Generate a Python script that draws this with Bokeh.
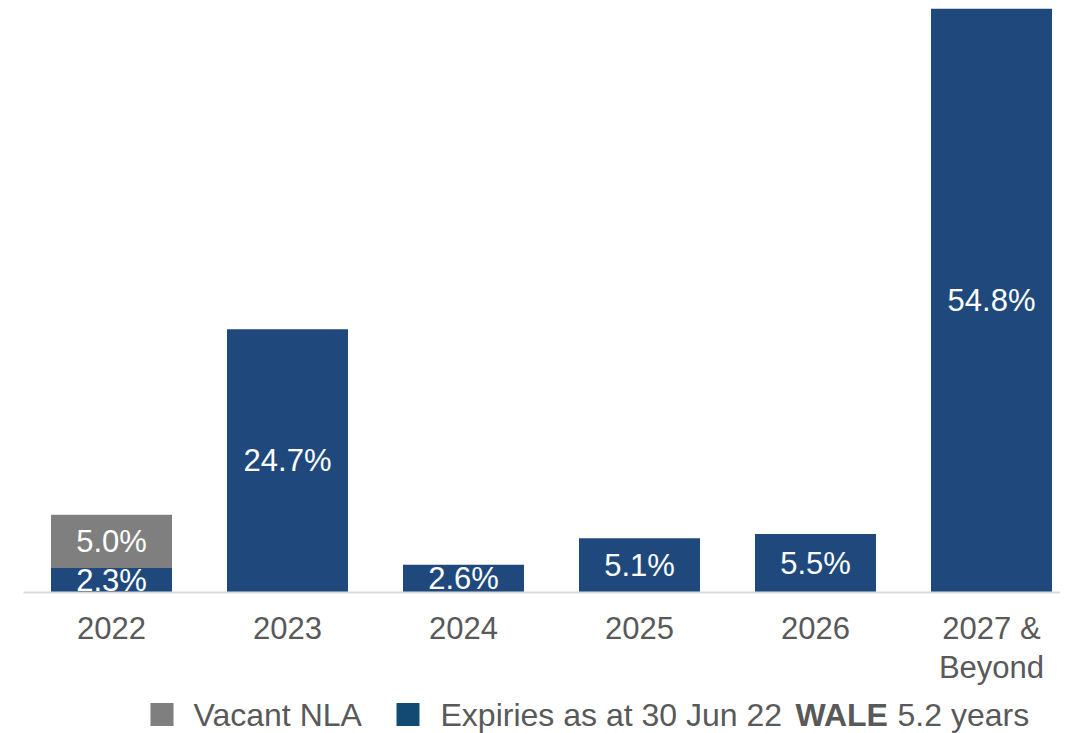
from bokeh.plotting import figure
from bokeh.models import Range1d, FixedTicker
from bokeh.layouts import column
from bokeh.embed import file_html
from bokeh.resources import INLINE
from bokeh.core.properties import value

# ---- data ----
categories = ["2022", "2023", "2024", "2025", "2026", "2027 &\nBeyond"]
expiries = [2.3, 24.7, 2.6, 5.1, 5.5, 54.8]
vacant = [5.0, 0.0, 0.0, 0.0, 0.0, 0.0]
legend_labels = ["Vacant NLA", "Expiries as at 30 Jun 22"]
wale_label = "WALE"
wale_value = "5.2 years"

FONT = "Liberation Sans"
BAR_BLUE = "#1F497D"
GREY = "#7F7F7F"
TEXT_GREY = "#595959"

idx = list(range(len(categories)))

W = 1060
LEFT = 23
FRAME_W = W - LEFT
STEP = 176.0
p = figure(width=W, height=692, output_backend="svg", toolbar_location=None,
           x_range=Range1d(-0.5, -0.5 + FRAME_W / STEP), y_range=Range1d(0, 54.8),
           min_border_left=LEFT, min_border_right=0, min_border_top=8, min_border_bottom=100)

BW = 121 / STEP
# expiries bars
p.vbar(x=idx, bottom=0, top=expiries, width=BW, fill_color=BAR_BLUE, line_color=None)
exp_mid = [v / 2 for v in expiries]
exp_txt = [f"{v:.1f}%" for v in expiries]
p.text(x=idx, y=exp_mid, text=exp_txt, text_align="center", text_baseline="middle",
       text_color="white", text_font=value(FONT), text_font_size="31px")

# vacant bars (stacked on expiries)
vx = [i for i, v in zip(idx, vacant) if v > 0]
vb = [e for e, v in zip(expiries, vacant) if v > 0]
vt = [e + v for e, v in zip(expiries, vacant) if v > 0]
vm = [e + v / 2 for e, v in zip(expiries, vacant) if v > 0]
vtxt = [f"{v:.1f}%" for v in vacant if v > 0]
p.vbar(x=vx, bottom=vb, top=vt, width=BW, fill_color=GREY, line_color=None)
p.text(x=vx, y=vm, text=vtxt, text_align="center", text_baseline="middle",
       text_color="white", text_font=value(FONT), text_font_size="31px")

p.yaxis.visible = False
p.grid.visible = False
p.outline_line_color = None
ax = p.xaxis[0]
ax.ticker = FixedTicker(ticks=idx)
ax.major_label_overrides = {i: c for i, c in zip(idx, categories)}
ax.major_tick_line_color = None
ax.minor_tick_line_color = None
ax.axis_line_color = "#D9D9D9"
ax.axis_line_width = 2
ax.major_label_standoff = 12
ax.major_label_text_font = FONT
ax.major_label_text_font_size = "31px"
ax.major_label_text_color = TEXT_GREY
ax.major_label_text_line_height = 1.12

# ---- legend strip (frame aligned with the chart frame) ----
lg = figure(width=W, height=41, output_backend="svg", toolbar_location=None,
            x_range=Range1d(LEFT, W), y_range=Range1d(0, 41),
            min_border_left=LEFT, min_border_right=0, min_border_top=0, min_border_bottom=0)
lg.axis.visible = False
lg.grid.visible = False
lg.outline_line_color = None

LFS = "32px"
lg.rect(x=[161.5, 407.5], y=[19, 19], width=23, height=23,
        fill_color=[GREY, "#134A74"], line_color=None)
lg.text(x=[193, 440], y=[18.5, 18.5], text=legend_labels, text_align="left",
        text_baseline="middle", text_color=TEXT_GREY, text_font=value(FONT),
        text_font_size=LFS)
lg.text(x=[795], y=[18.5], text=[wale_label], text_align="left", text_baseline="middle",
        text_color=TEXT_GREY, text_font=value(FONT), text_font_size=LFS,
        text_font_style="bold")
lg.text(x=[897], y=[18.5], text=[wale_value], text_align="left", text_baseline="middle",
        text_color=TEXT_GREY, text_font=value(FONT), text_font_size=LFS)

layout = column(p, lg, spacing=0)
open("out.html", "w").write(file_html(layout, INLINE))
